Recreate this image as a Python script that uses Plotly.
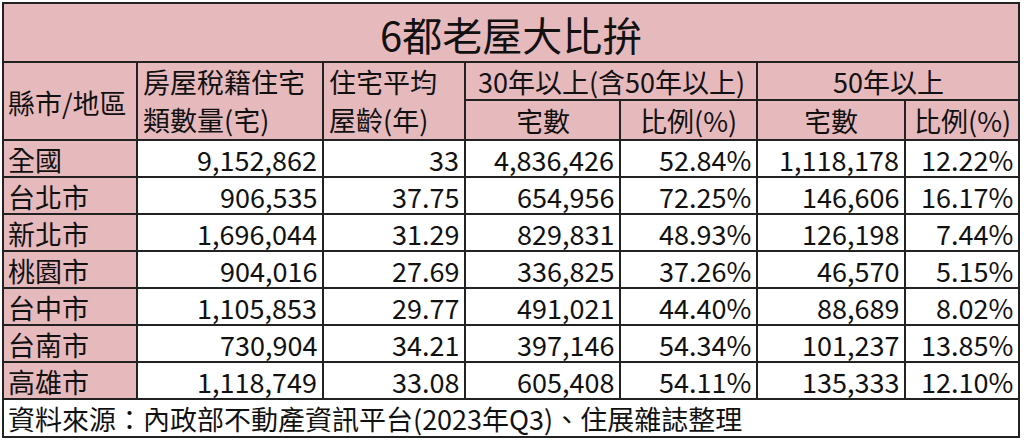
import plotly.graph_objects as go

regions = ["全國", "台北市", "新北市", "桃園市", "台中市", "台南市", "高雄市"]
households = [9152862, 906535, 1696044, 904016, 1105853, 730904, 1118749]
avg_age = ["33", "37.75", "31.29", "27.69", "29.77", "34.21", "33.08"]
n30 = [4836426, 654956, 829831, 336825, 491021, 397146, 605408]
p30 = [52.84, 72.25, 48.93, 37.26, 44.40, 54.34, 54.11]
n50 = [1118178, 146606, 126198, 46570, 88689, 101237, 135333]
p50 = [12.22, 16.17, 7.44, 5.15, 8.02, 13.85, 12.10]
title = "6都老屋大比拚"
source = "資料來源：內政部不動產資訊平台(2023年Q3)、住展雜誌整理"

PINK = "#E6B9BD"
FONT = "Noto Sans CJK TC"
FS = 27
cols = [3, 137, 323, 465, 620, 757, 905, 1019]
top, h1, h2 = 3, 62, 100
hdr_bot = 140
rh = 37.0
rows = [hdr_bot + i * rh for i in range(len(regions) + 1)]
bot = 437

fig = go.Figure()
shapes = []
ann = []

def rect(x0, y0, x1, y1, fill):
    shapes.append(dict(type="rect", x0=x0, x1=x1, y0=y0, y1=y1, xref="x", yref="y",
                       fillcolor=fill, line=dict(color="#222", width=2), layer="below"))

def text(x, y, s, size=FS, anchor="left"):
    ann.append(dict(x=x, y=y, text=s, showarrow=False, xanchor=anchor, yanchor="middle",
                    xref="x", yref="y", font=dict(family=FONT, size=size, color="#111")))

rect(cols[0], top, cols[-1], h1, PINK)
text((cols[0] + cols[-1]) / 2, (top + h1) / 2 + 1, title, 40, "center")
rect(cols[0], h1, cols[1], hdr_bot, PINK)
text(cols[0] + 3, (h1 + hdr_bot) / 2 + 1, "縣市/地區")
rect(cols[1], h1, cols[2], hdr_bot, PINK)
text(cols[1] + 4, 81, "房屋稅籍住宅")
text(cols[1] + 4, 119, "類數量(宅)")
rect(cols[2], h1, cols[3], hdr_bot, PINK)
text(cols[2] + 4, 81, "住宅平均")
text(cols[2] + 4, 119, "屋齡(年)")
rect(cols[3], h1, cols[5], h2, PINK)
text((cols[3] + cols[5]) / 2, 81, "30年以上(含50年以上)", FS, "center")
rect(cols[5], h1, cols[7], h2, PINK)
text((cols[5] + cols[7]) / 2, 81, "50年以上", FS, "center")
for i, lab in zip(range(3, 7), ["宅數", "比例(%)", "宅數", "比例(%)"]):
    rect(cols[i], h2, cols[i + 1], hdr_bot, PINK)
    text((cols[i] + cols[i + 1]) / 2, 120, lab, FS, "center")

for r, reg in enumerate(regions):
    y0, y1 = rows[r], rows[r + 1]
    ym = (y0 + y1) / 2 + 1
    rect(cols[0], y0, cols[1], y1, PINK)
    text(cols[0] + 3, ym, reg)
    vals = [f"{households[r]:,}", avg_age[r], f"{n30[r]:,}", f"{p30[r]:.2f}%",
            f"{n50[r]:,}", f"{p50[r]:.2f}%"]
    for c, v in enumerate(vals):
        rect(cols[c + 1], y0, cols[c + 2], y1, "white")
        text(cols[c + 2] - 4, ym, v, FS, "right")

rect(cols[0], rows[-1], cols[-1], bot, "white")
text(cols[0] + 3, (rows[-1] + bot) / 2, source)

fig.update_layout(width=1024, height=440, margin=dict(l=0, r=0, t=0, b=0),
                  plot_bgcolor="white", paper_bgcolor="white", shapes=shapes, annotations=ann,
                  xaxis=dict(range=[0, 1024], visible=False, fixedrange=True),
                  yaxis=dict(range=[440, 0], visible=False, fixedrange=True),
                  showlegend=False)
fig.write_html("out.html", config={"displayModeBar": False})
with open("out.html", encoding="utf-8") as f:
    html = f.read()
html = html.replace("<body>", '<body style="margin:0;overflow:hidden">', 1)
with open("out.html", "w", encoding="utf-8") as f:
    f.write(html)
